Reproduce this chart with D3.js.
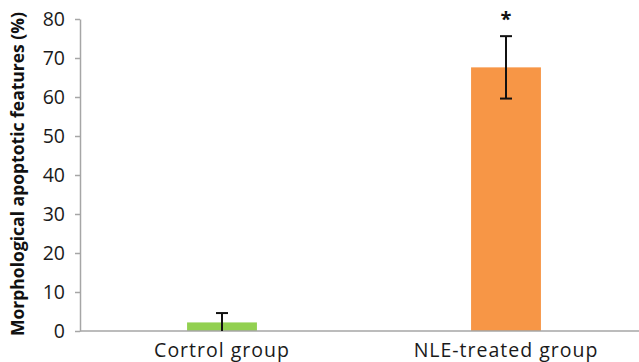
<!DOCTYPE html>
<html>
<head>
<meta charset="utf-8">
<script src="https://cdn.jsdelivr.net/npm/d3@7"></script>
<style>
  html, body { margin: 0; padding: 0; background: #fff; }
  svg { display: block; }
</style>
</head>
<body>
<svg id="chart" width="639" height="362"></svg>
<script>
// Share of cells with morphological apoptotic features, by group
const groups = ["Cortrol group", "NLE-treated group"];
const means = [2.2, 67.6];
const errors = [2.4, 8.0];
const significance = ["", "*"];
const barColors = ["#92d050", "#f79646"];
const yTicks = [0, 10, 20, 30, 40, 50, 60, 70, 80];

const svg = d3.select("#chart");
const margin = { top: 19, bottom: 31, left: 80 };
const W = 639, H = 362;

// plot area runs off the right edge of the canvas
const x = d3.scaleBand()
  .domain(groups)
  .range([margin.left, 648])
  .paddingInner(0.754)
  .paddingOuter(0.377);

const y = d3.scaleLinear()
  .domain([0, 80])
  .range([H - margin.bottom, margin.top]);

const font = "'Open Sans', 'DejaVu Sans', sans-serif";

// y axis
const yAxis = svg.append("g")
  .attr("transform", `translate(${margin.left},0)`)
  .call(d3.axisLeft(y).tickValues(yTicks).tickSize(5).tickPadding(10).tickSizeOuter(0));
yAxis.select(".domain").attr("stroke", "#a6a6a6").attr("stroke-width", 1.5);
yAxis.selectAll(".tick line").attr("stroke", "#a6a6a6").attr("stroke-width", 1.5);
yAxis.selectAll(".tick text")
  .attr("font-family", font)
  .attr("font-size", 19.5)
  .attr("fill", "#1a1a1a");

// bars
svg.append("g").selectAll("rect")
  .data(groups)
  .join("rect")
  .attr("x", d => x(d))
  .attr("width", x.bandwidth())
  .attr("y", (d, i) => y(means[i]))
  .attr("height", (d, i) => y(0) - y(means[i]))
  .attr("fill", (d, i) => barColors[i]);

// baseline
svg.append("line")
  .attr("x1", margin.left).attr("x2", W)
  .attr("y1", y(0)).attr("y2", y(0))
  .attr("stroke", "#a6a6a6").attr("stroke-width", 1.5);

// error bars
const eb = svg.append("g").attr("stroke", "#111").attr("stroke-width", 2);
groups.forEach((g, i) => {
  const cx = x(g) + x.bandwidth() / 2;
  const lo = Math.max(0, means[i] - errors[i]);
  const hi = means[i] + errors[i];
  eb.append("line").attr("x1", cx).attr("x2", cx).attr("y1", y(lo)).attr("y2", y(hi));
  eb.append("line").attr("x1", cx - 6).attr("x2", cx + 6).attr("y1", y(hi)).attr("y2", y(hi));
  if (means[i] - errors[i] > 0) {
    eb.append("line").attr("x1", cx - 6).attr("x2", cx + 6).attr("y1", y(lo)).attr("y2", y(lo));
  }
});

// significance markers
svg.append("g").selectAll("text")
  .data(groups)
  .join("text")
  .attr("x", d => x(d) + x.bandwidth() / 2)
  .attr("y", (d, i) => y(means[i] + errors[i]) - 10)
  .attr("text-anchor", "middle")
  .attr("font-family", font)
  .attr("font-weight", "bold")
  .attr("font-size", 20)
  .attr("fill", "#111")
  .text((d, i) => significance[i]);

// category labels
svg.append("g").selectAll("text")
  .data(groups)
  .join("text")
  .attr("x", d => x(d) + x.bandwidth() / 2)
  .attr("y", H - 5)
  .attr("text-anchor", "middle")
  .attr("font-family", font)
  .attr("font-size", 19.5)
  .attr("letter-spacing", 1)
  .attr("fill", "#1a1a1a")
  .text(d => d);

// y axis title
svg.append("text")
  .attr("transform", "translate(24,174) rotate(-90)")
  .attr("text-anchor", "middle")
  .attr("font-family", font)
  .attr("font-weight", "bold")
  .attr("font-size", 17.5)
  .attr("fill", "#111")
  .text("Morphological apoptotic features (%)");
</script>
</body>
</html>
